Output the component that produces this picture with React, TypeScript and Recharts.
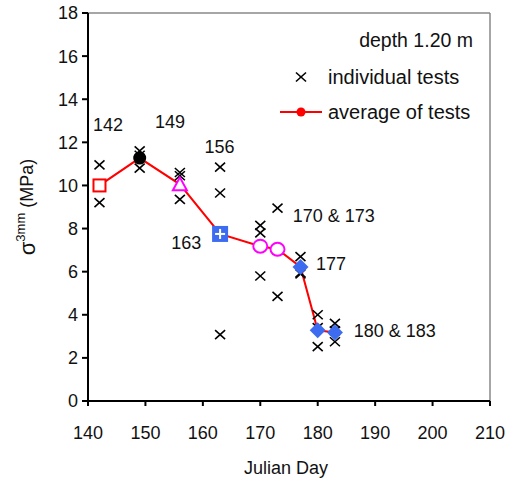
import React from "react";
import {
  ComposedChart,
  Scatter,
  Line,
  XAxis,
  YAxis,
  ReferenceLine,
  Label,
} from "recharts";

// individual strength tests, day + value
const testDay = [142, 142, 149, 149, 149, 156, 156, 156, 163, 163, 163, 170, 170, 170, 173, 173, 173, 177, 177, 177, 180, 180, 180, 183, 183, 183];
const testStrength = [10.95, 9.2, 11.6, 11.4, 10.8, 10.6, 10.45, 9.35, 10.85, 9.65, 3.08, 8.15, 7.8, 5.8, 8.95, 7.0, 4.85, 6.7, 5.95, 5.9, 4.0, 3.4, 2.52, 3.6, 3.25, 2.75];

// average of tests per day
const avgDay = [142, 149, 156, 163, 170, 173, 177, 180, 183];
const avgStrength = [10.0, 11.27, 10.05, 7.75, 7.18, 7.04, 6.22, 3.28, 3.18];

// day annotations
const noteText = ["142", "149", "156", "163", "170 & 173", "177", "180 & 183"];
const noteDay = [143.5, 154.3, 162.9, 157.1, 182.8, 182.3, 193.4];
const noteValue = [12.8, 12.95, 11.8, 7.35, 8.6, 6.35, 3.25];

const xTicks = [140, 150, 160, 170, 180, 190, 200, 210];
const yTicks = [0, 2, 4, 6, 8, 10, 12, 14, 16, 18];

const tests = testDay.map((d, i) => ({ d, v: testStrength[i] }));
const averages = avgDay.map((d, i) => ({ d, v: avgStrength[i] }));
const notes = noteDay.map((d, i) => ({ d, v: noteValue[i], t: noteText[i] }));

const FONT = "'Liberation Sans', Arial, sans-serif";
const BLUE = "#3d6cf0";
const MAGENTA = "#ff00ff";
const RED = "#ff0000";

const markerKind = ["square", "dot", "triangle", "plus", "ring", "ring", "diamond", "diamond", "diamond"];

function Cross(props: any) {
  const { cx, cy } = props;
  return (
    <g stroke="#000" strokeWidth={1.6}>
      <line x1={cx - 5} y1={cy - 4.5} x2={cx + 5} y2={cy + 4.5} />
      <line x1={cx - 5} y1={cy + 4.5} x2={cx + 5} y2={cy - 4.5} />
    </g>
  );
}

function AvgMarker(props: any) {
  const { cx, cy, index } = props;
  const kind = markerKind[index];
  if (kind === "square")
    return <rect x={cx - 6} y={cy - 6} width={12} height={12} fill="#fff" stroke={RED} strokeWidth={2} />;
  if (kind === "dot") return <circle cx={cx} cy={cy} r={6.5} fill="#000" />;
  if (kind === "triangle")
    return (
      <polygon
        points={`${cx},${cy - 7} ${cx + 7},${cy + 6} ${cx - 7},${cy + 6}`}
        fill="#fff"
        stroke={MAGENTA}
        strokeWidth={2}
      />
    );
  if (kind === "plus")
    return (
      <g>
        <rect x={cx - 8} y={cy - 8} width={16} height={16} fill={BLUE} />
        <line x1={cx - 5} y1={cy} x2={cx + 5} y2={cy} stroke="#fff" strokeWidth={2} />
        <line x1={cx} y1={cy - 5} x2={cx} y2={cy + 5} stroke="#fff" strokeWidth={2} />
      </g>
    );
  if (kind === "ring")
    return <ellipse cx={cx} cy={cy} rx={7} ry={6.5} fill="#fff" stroke={MAGENTA} strokeWidth={2} />;
  return <polygon points={`${cx},${cy - 8} ${cx + 8},${cy} ${cx},${cy + 8} ${cx - 8},${cy}`} fill={BLUE} />;
}

function NoteText(props: any) {
  const { cx, cy, payload } = props;
  return (
    <text x={cx} y={cy} textAnchor="middle" dominantBaseline="central" fontSize={18} fill="#111" fontFamily={FONT}>
      {payload.t}
    </text>
  );
}

function YTitle(props: any) {
  const { viewBox } = props;
  const x = viewBox.x - 21;
  const y = viewBox.y + viewBox.height / 2;
  return (
    <text
      x={x}
      y={y}
      transform={`rotate(-90, ${x}, ${y})`}
      textAnchor="middle"
      dominantBaseline="central"
      fontFamily={FONT}
      fontSize={18}
      fill="#111"
    >
      <tspan fontSize={22}>σ</tspan>
      <tspan fontSize={13} dy={-7}>3mm</tspan>
      <tspan dy={7}> (MPa)</tspan>
    </text>
  );
}

function XTitle(props: any) {
  const { viewBox } = props;
  return (
    <text x={viewBox.x + viewBox.width / 2 - 3} y={474} textAnchor="middle" fontFamily={FONT} fontSize={18} fill="#111">
      Julian Day
    </text>
  );
}

function LegendBox() {
  return (
    <svg width={511} height={140} style={{ position: "absolute", left: 0, top: 0, pointerEvents: "none" }}>
      <g fontFamily={FONT} fontSize={20} fill="#111">
        <text x={473} y={40} textAnchor="end" dominantBaseline="central" fontSize={19.5}>depth 1.20 m</text>
        <g stroke="#000" strokeWidth={1.6}>
          <line x1={296} y1={72.5} x2={306} y2={81.5} />
          <line x1={296} y1={81.5} x2={306} y2={72.5} />
        </g>
        <text x={328} y={77} dominantBaseline="central">individual tests</text>
        <line x1={280} y1={112} x2={322} y2={112} stroke={RED} strokeWidth={2} />
        <circle cx={301} cy={112} r={4.5} fill={RED} />
        <text x={328} y={112} dominantBaseline="central">average of tests</text>
      </g>
    </svg>
  );
}

export default function App() {
  const tick = { fill: "#111", fontSize: 18, fontFamily: FONT };
  return (
    <div style={{ position: "absolute", left: 0, top: 0, width: 511, height: 482, background: "#fff" }}>
      <ComposedChart width={511} height={482} margin={{ top: 13, right: 21, bottom: 21, left: 48 }}>
        <XAxis
          type="number"
          dataKey="d"
          domain={[140, 210]}
          ticks={xTicks}
          interval={0}
          height={60}
          tick={tick}
          tickSize={5}
          tickMargin={20}
          axisLine={{ stroke: "#000", strokeWidth: 2 }}
          tickLine={{ stroke: "#000", strokeWidth: 2 }}
        >
          <Label content={XTitle} />
        </XAxis>
        <YAxis
          type="number"
          dataKey="v"
          domain={[0, 18]}
          ticks={yTicks}
          interval={0}
          width={40}
          tick={tick}
          tickSize={6}
          tickMargin={4}
          axisLine={{ stroke: "#000", strokeWidth: 2 }}
          tickLine={{ stroke: "#000", strokeWidth: 2 }}
        >
          <Label content={YTitle} />
        </YAxis>
        <ReferenceLine y={18} stroke="#888" strokeWidth={1.5} />
        <ReferenceLine x={210} stroke="#888" strokeWidth={1.5} />
        <Scatter data={tests} dataKey="v" shape={Cross} isAnimationActive={false} />
        <Line
          data={averages}
          dataKey="v"
          type="linear"
          stroke={RED}
          strokeWidth={2}
          dot={false}
          activeDot={false}
          isAnimationActive={false}
        />
        <Scatter data={averages} dataKey="v" shape={AvgMarker} isAnimationActive={false} />
        <Scatter data={notes} dataKey="v" shape={NoteText} isAnimationActive={false} />
      </ComposedChart>
      <LegendBox />
    </div>
  );
}
